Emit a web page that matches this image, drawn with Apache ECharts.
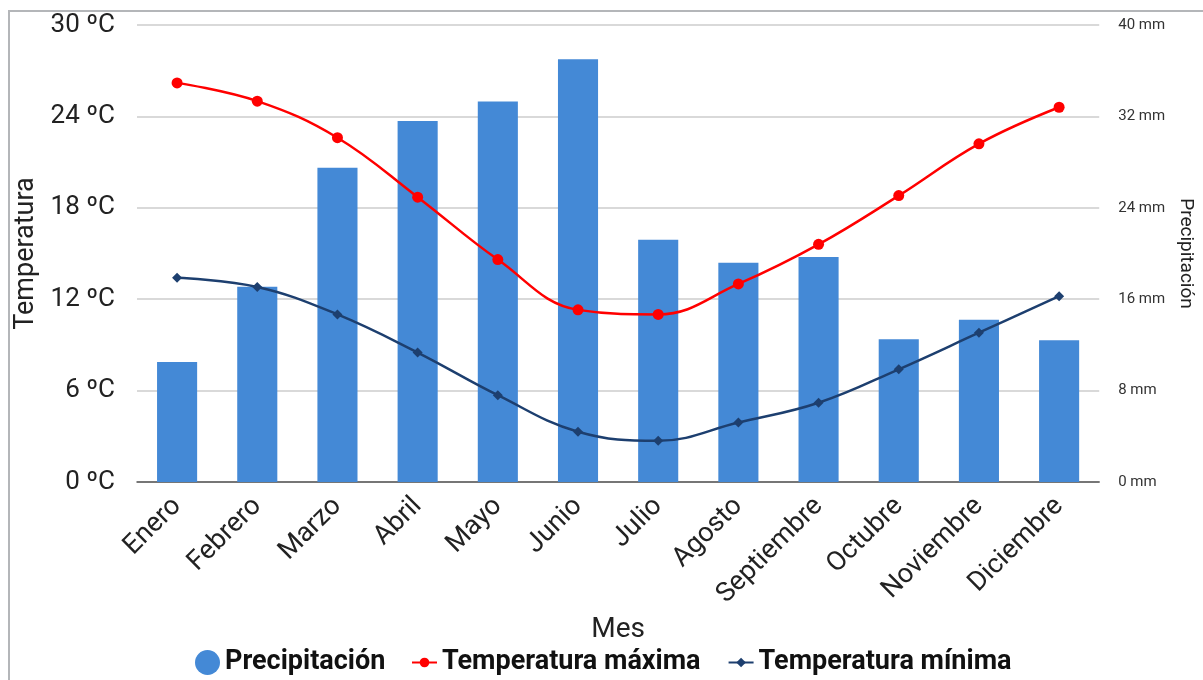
<!DOCTYPE html>
<html>
<head>
<meta charset="utf-8">
<script src="https://cdn.jsdelivr.net/npm/echarts@6/dist/echarts.min.js"></script>
<style>
  html, body { margin: 0; padding: 0; background: #fff; }
  #frame { position: absolute; left: 8px; top: 10px; width: 1300px; height: 800px;
           border-left: 2px solid #b4b6b9; border-top: 2px solid #b4b6b9; }
  #chart { position: absolute; left: 0; top: 0; width: 1203px; height: 680px; }
</style>
</head>
<body>
<div id="frame"></div>
<div id="chart"></div>
<script>
// Climate data by month
const meses = ['Enero', 'Febrero', 'Marzo', 'Abril', 'Mayo', 'Junio', 'Julio',
               'Agosto', 'Septiembre', 'Octubre', 'Noviembre', 'Diciembre'];
const precipitacion = [10.5, 17.1, 27.5, 31.6, 33.3, 37.0, 21.2, 19.2, 19.7, 12.5, 14.2, 12.4];
const tempMaxima = [26.2, 25.0, 22.6, 18.7, 14.6, 11.3, 11.0, 13.0, 15.6, 18.8, 22.2, 24.6];
const tempMinima = [13.4, 12.8, 11.0, 8.5, 5.7, 3.3, 2.7, 3.9, 5.2, 7.4, 9.8, 12.2];

const FONT = 'Roboto, "Noto Sans", sans-serif';
const chart = echarts.init(document.getElementById('chart'), null, { renderer: 'canvas' });

chart.setOption({
  animation: false,
  textStyle: { fontFamily: FONT },
  grid: { left: 137, right: 100, top: 25, bottom: 198, containLabel: false },
  legend: [
    {
      data: [{ name: 'Precipitación', icon: 'circle' }],
      left: 195, top: 649, padding: 0,
      itemWidth: 25, itemHeight: 25, itemGap: 30,
      textStyle: { fontSize: 27, fontWeight: 'bold', color: '#111', fontFamily: FONT }
    },
    {
      data: ['Temperatura máxima', 'Temperatura mínima'],
      left: 411, top: 649, padding: 0,
      itemWidth: 25, itemHeight: 12, itemGap: 27,
      textStyle: { fontSize: 27, fontWeight: 'bold', color: '#111', fontFamily: FONT }
    }
  ],
  xAxis: {
    type: 'category',
    data: meses,
    name: 'Mes',
    nameLocation: 'middle',
    nameGap: 132,
    nameTextStyle: { fontSize: 28, color: '#222' },
    axisLine: { lineStyle: { color: '#555', width: 1.5 } },
    axisTick: { length: 10, lineStyle: { color: '#555', width: 1.5 } },
    axisLabel: { rotate: 45, fontSize: 27, color: '#222', margin: 20 }
  },
  yAxis: [
    {
      type: 'value',
      min: 0, max: 30, interval: 6,
      name: 'Temperatura',
      nameLocation: 'middle',
      nameGap: 96,
      nameTextStyle: { fontSize: 27, color: '#222' },
      axisLine: { show: false },
      axisTick: { show: false },
      axisLabel: { formatter: '{value} ºC', fontSize: 26, color: '#222', margin: 22 },
      splitLine: { lineStyle: { color: '#cdcdcd', width: 1.5 } }
    },
    {
      type: 'value',
      min: 0, max: 40, interval: 8,
      name: 'Precipitación',
      nameLocation: 'middle',
      nameGap: 76,
      nameRotate: -90,
      nameTextStyle: { fontSize: 19, color: '#222' },
      axisLine: { show: false },
      axisTick: { show: false },
      axisLabel: { formatter: '{value} mm', fontSize: 15, color: '#333', margin: 19 },
      splitLine: { show: false }
    }
  ],
  series: [
    {
      name: 'Precipitación',
      type: 'bar',
      yAxisIndex: 1,
      data: precipitacion,
      barWidth: '50%',
      itemStyle: { color: '#4489d6' }
    },
    {
      name: 'Temperatura máxima',
      type: 'line',
      yAxisIndex: 0,
      data: tempMaxima,
      smooth: 0.4,
      symbol: 'circle',
      symbolSize: 11,
      lineStyle: { color: '#ff0000', width: 2.5 },
      itemStyle: { color: '#ff0000' }
    },
    {
      name: 'Temperatura mínima',
      type: 'line',
      yAxisIndex: 0,
      data: tempMinima,
      smooth: 0.4,
      symbol: 'diamond',
      symbolSize: 10,
      lineStyle: { color: '#1d3f6f', width: 2.5 },
      itemStyle: { color: '#1d3f6f' }
    }
  ]
});
</script>
</body>
</html>
